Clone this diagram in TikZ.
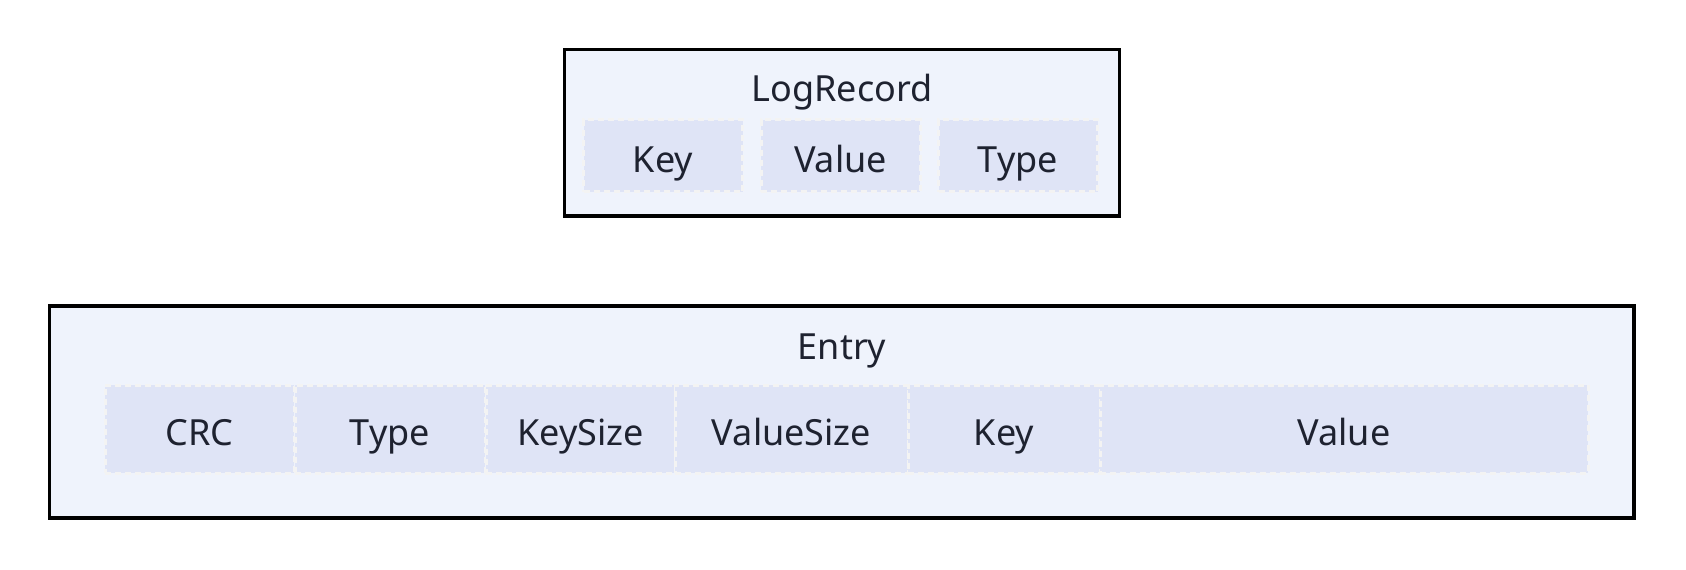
\documentclass[tikz,border=0pt]{standalone}
\usepackage{fontspec}
\setmainfont{Noto Sans}
\definecolor{outerfill}{HTML}{EFF3FC}
\definecolor{fieldfill}{HTML}{DFE4F6}
\definecolor{fieldline}{HTML}{F3F3F3}
\definecolor{ink}{HTML}{1E2230}
\begin{document}
\begin{tikzpicture}[x=1pt,y=-1pt,
  record/.style={draw=black, line width=3.5pt, fill=outerfill, inner sep=0pt},
  label text/.style={text=ink, font=\fontsize{36}{43}\selectfont},
  heading/.style={label text, inner sep=0pt, anchor=base},
  field/.style={label text, text height=33pt, text depth=0pt, draw=fieldline,
    line width=3pt, dash pattern=on 6pt off 4pt, fill=fieldfill, inner sep=0pt},
]
\useasboundingbox (0,0) rectangle (1686,570);

% LogRecord structure
\node[record, minimum width=555pt, minimum height=166.5pt] (logrecord) at (842,132.75) {};
\node[heading] (lrtitle) at (842,101.5) {LogRecord};
\node[field, minimum width=159pt, minimum height=72pt] (lrkey)   at (663,155.5)  {Key};
\node[field, minimum width=159pt, minimum height=72pt] (lrvalue) at (840.5,155.5)  {Value};
\node[field, minimum width=159pt, minimum height=72pt] (lrtype)  at (1018,155.5) {Type};

% Entry layout on disk
\node[record, minimum width=1584.5pt, minimum height=212pt] (entry) at (841.75,412) {};
\node[heading] (entrytitle) at (842,359.5) {Entry};
\node[field, minimum width=189pt, minimum height=88pt] (crc)       at (199.5,429) {CRC};
\node[field, minimum width=190pt, minimum height=88pt] (etype)     at (390,429)   {Type};
\node[field, minimum width=189pt, minimum height=88pt] (keysize)   at (580.5,429) {KeySize};
\node[field, minimum width=233pt, minimum height=88pt] (valuesize) at (791.5,429) {ValueSize};
\node[field, minimum width=192pt, minimum height=88pt] (ekey)      at (1004,429)  {Key};
\node[field, minimum width=488pt, minimum height=88pt] (evalue)    at (1344,429)  {Value};
\end{tikzpicture}
\end{document}
